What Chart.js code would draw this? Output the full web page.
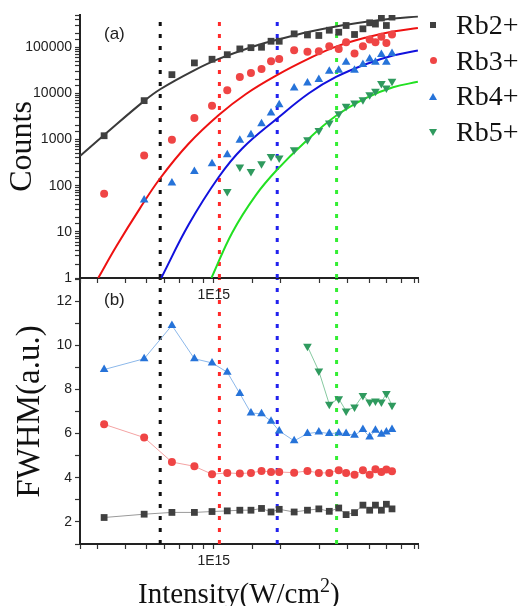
<!DOCTYPE html>
<html>
<head>
<meta charset="utf-8">
<script src="https://cdn.jsdelivr.net/npm/chart.js@4.4.1/dist/chart.umd.min.js"></script>
<style>
html, body { margin: 0; padding: 0; background: #fff; }
#wrap { position: relative; width: 521px; height: 606px; overflow: hidden; }
#wrap canvas { position: absolute; left: 0; top: 0; }
.panel { position: absolute; font-family: "Liberation Sans", Arial, sans-serif; font-size: 17px; color: #222; }
.leg { position: absolute; left: 456px; font-family: "Liberation Serif", serif; font-size: 28px; line-height: 36px; color: #111; white-space: nowrap; }
.mk { position: absolute; }
#xtitle { position: absolute; left: 138px; top: 579px; font-family: "Liberation Serif", serif; font-size: 29px; line-height: 29px; color: #111; white-space: nowrap; }
#xtitle span { font-size: 20px; position: relative; top: -11px; }
</style>
</head>
<body>
<div id="wrap">
  <canvas id="fwhm" width="521" height="606"></canvas>
  <canvas id="counts" width="521" height="606"></canvas>
  <div class="panel" style="left:104px;top:24px;">(a)</div>
  <div class="panel" style="left:104px;top:290px;">(b)</div>
  <div id="xtitle">Intensity(W/cm<span>2</span>)</div>
  <div id="legend"></div>
</div>
<script>
// ion species
const seriesNames = ['Rb2+', 'Rb3+', 'Rb4+', 'Rb5+'];

// laser intensity of each measurement (W/cm2)
const intensity = [3.21e14, 4.86e14, 6.48e14, 8.18e14, 9.82e14, 1.15e15, 1.31e15, 1.47e15,
    1.64e15, 1.81e15, 1.97e15, 2.30e15, 2.64e15, 2.97e15, 3.31e15, 3.65e15,
    3.94e15, 4.30e15, 4.69e15, 5.03e15, 5.34e15, 5.68e15, 5.98e15, 6.34e15];

// (a) ion counts
const counts2 = [1210, 6970, 25500, 45800, 55000, 69000, 92000, 98000, 100000, 135000, 135000, 195000,
    185000, 180000, 234000, 212000, 296000, 189000, 251000, 339000, 318000, 430000, 296000, 450000];
const counts3 = [67, 452, 991, 2930, 5420, 11700, 22800, 27800, 34000, 49700, 56000, 86000,
    80000, 82000, 105000, 92000, 128000, 73000, 105000, 147000, 128000, 168000, 124000, 189000];
const counts4 = [null, 49, 114, 203, 299, 468, 970, 1270, 2205, 3770, 5700, 13100,
    16900, 19900, 30100, 31700, 47300, 31700, 42100, 56000, 47300, 69400, 47300, 73000];
const counts5 = [null, null, null, null, null, 75, 253, 203, 299, 430, 397, 601,
    991, 1580, 2285, 3640, 5240, 6210, 7310, 9400, 11100, 16300, 13100, 18300];

// (a) fitted curves
const fitX2 = [2.5e14, 3.24e14, 4.82e14, 5.74e14, 8.12e14, 1.053e15, 1.544e15, 1.934e15, 2.69e15, 3.55e15, 4.86e15, 6.41e15, 8.29e15];
const fitY2 = [440, 1306, 6640, 12300, 31200, 55900, 108000, 146000, 217000, 283000, 356000, 418000, 461000];
const fitX3 = [3.02e14, 3.65e14, 4.66e14, 5.74e14, 7.70e14, 1.053e15, 1.391e15, 1.934e15, 2.69e15, 3.55e15, 4.86e15, 6.41e15, 8.29e15];
const fitY3 = [1, 4.94, 32.7, 145, 809, 3400, 9610, 25200, 57300, 103000, 163000, 219000, 261000];
const fitX4 = [5.80e14, 7.70e14, 1.053e15, 1.343e15, 1.934e15, 2.69e15, 3.55e15, 4.86e15, 6.41e15, 8.29e15];
const fitY4 = [1, 14.2, 154, 640, 2890, 10200, 22700, 43400, 66300, 85100];
const fitX5 = [9.76e14, 1.21e15, 1.544e15, 1.934e15, 2.555e15, 3.55e15, 4.86e15, 6.41e15, 8.29e15];
const fitY5 = [1, 9.6, 61.9, 226, 855, 3270, 8030, 13600, 17800];

// (b) peak widths
const fwhm2 = [2.20, 2.35, 2.43, 2.43, 2.47, 2.50, 2.53, 2.53, 2.61, 2.45, 2.57, 2.45,
    2.53, 2.59, 2.48, 2.63, 2.33, 2.42, 2.76, 2.53, 2.76, 2.53, 2.80, 2.59];
const fwhm3 = [6.42, 5.82, 4.71, 4.52, 4.16, 4.22, 4.19, 4.22, 4.31, 4.26, 4.26, 4.23,
    4.31, 4.22, 4.22, 4.34, 4.22, 4.14, 4.34, 4.14, 4.38, 4.26, 4.37, 4.29];
const fwhm4 = [8.90, 9.39, 10.90, 9.39, 9.20, 8.78, 7.81, 6.93, 6.90, 6.56, 6.12, 5.67,
    6.00, 6.07, 6.00, 6.03, 6.00, 5.92, 6.18, 5.85, 6.15, 5.97, 6.07, 6.18];
const fwhm5 = [null, null, null, null, null, null, null, null, null, null, null, null,
    9.95, 8.83, 7.33, 7.58, 7.02, 7.20, 7.73, 7.43, 7.47, 7.43, 7.81, 7.28];

// threshold intensities (dotted lines), one per species
const thresholds = [5.74e14, 1.06e15, 1.93e15, 3.57e15];

// axis ranges and labelled ticks
const xMin = 2.5e14, xMax = 8.3e15;
const countMin = 1, countMax = 5e5;
const fwhmMin = 1, fwhmMax = 13;
const xLabelValues = [1e15];
const countLabelValues = [1, 10, 100, 1000, 10000, 100000];
const fwhmLabelValues = [2, 4, 6, 8, 10, 12];

const markerColors = ['#404040', '#ef4545', '#2673d9', '#2f9a5e'];
const fitColors = ['#3a3a3a', '#ee1111', '#1111dd', '#22e022'];
const guideColors = ['#111111', '#ff2a2a', '#2222ee', '#33ee33'];
const thinColors = ['#9a9a9a', '#f4a3a3', '#8cb8ea', '#86c9a0'];
const pointStyles = ['rect', 'circle', 'triangle', 'triangle'];
const pointRot = [0, 0, 0, 180];
const pointRad = [4.8, 4, 5, 5];

const countsData = [counts2, counts3, counts4, counts5];
const fwhmData = [fwhm2, fwhm3, fwhm4, fwhm5];
const fitXs = [fitX2, fitX3, fitX4, fitX5];
const fitYs = [fitY2, fitY3, fitY4, fitY5];

const tickFont = { family: 'Liberation Sans', size: 14 };
const near = (v, list) => list.some(t => Math.abs(v - t) <= t * 1e-6);
const pairs = (xs, ys) => xs.map((x, i) => ({ x: x, y: ys[i] }));

function xScale(h) {
    return {
        type: 'logarithmic', min: xMin, max: xMax,
        grid: { drawOnChartArea: false, drawTicks: true, tickLength: 5, tickColor: '#333', tickWidth: 1.2 },
        border: { color: '#222', width: 2 },
        ticks: {
            autoSkip: false, maxRotation: 0, padding: 4, color: '#222', font: tickFont,
            callback: v => near(v, xLabelValues) ? '1E' + Math.round(Math.log10(v)) : ''
        },
        afterFit: s => { s.height = h; }
    };
}

function guides(lo, hi) {
    return thresholds.map((t, i) => ({
        type: 'line', data: [{ x: t, y: lo }, { x: t, y: hi }],
        borderColor: guideColors[i], borderWidth: 3, borderDash: [4, 8],
        pointRadius: 0, order: 3
    }));
}

function markers(values, withLine) {
    return values.map((ys, i) => ({
        type: 'line', label: seriesNames[i], data: pairs(intensity, ys),
        showLine: withLine, borderColor: thinColors[i], borderWidth: 1, spanGaps: false,
        pointStyle: pointStyles[i], rotation: pointRot[i], pointRadius: pointRad[i],
        pointBackgroundColor: markerColors[i], pointBorderWidth: 0, order: 1
    }));
}

const common = {
    responsive: false, animation: false, events: [],
    plugins: { legend: { display: false }, tooltip: { enabled: false } }
};

// (a) counts vs intensity
new Chart(document.getElementById('counts'), {
    type: 'line',
    data: {
        datasets: [
            ...markers(countsData, false),
            ...fitXs.map((xs, i) => ({
                type: 'line', data: pairs(xs, fitYs[i]), borderColor: fitColors[i], borderWidth: 2,
                pointRadius: 0, tension: 0.4, order: 2
            })),
            ...guides(countMin, countMax)
        ]
    },
    options: Object.assign({}, common, {
        layout: { padding: { top: 15, right: 103, left: 0, bottom: 0 } },
        scales: {
            x: xScale(606 - 278),
            y: {
                type: 'logarithmic', min: countMin, max: countMax,
                grid: { drawOnChartArea: false, drawTicks: true, tickLength: 5, tickColor: '#333', tickWidth: 1.2 },
                border: { color: '#222', width: 2 },
                ticks: {
                    autoSkip: false, padding: 3, color: '#222', font: tickFont,
                    callback: v => near(v, countLabelValues) ? String(v) : ''
                },
                title: { display: true, text: 'Counts', color: '#111', font: { family: 'Liberation Serif', size: 32 }, padding: { top: 3, bottom: 0 } },
                afterFit: s => { s.width = 80; }
            }
        }
    })
});

// (b) FWHM vs intensity
new Chart(document.getElementById('fwhm'), {
    type: 'line',
    data: { datasets: [...markers(fwhmData, true), ...guides(fwhmMin, fwhmMax)] },
    options: Object.assign({}, common, {
        layout: { padding: { top: 279, right: 103, left: 0, bottom: 0 } },
        scales: {
            x: xScale(606 - 544),
            y: {
                type: 'linear', min: fwhmMin, max: fwhmMax,
                grid: { drawOnChartArea: false, drawTicks: true, tickLength: 5, tickColor: '#333', tickWidth: 1.2 },
                border: { color: '#222', width: 2 },
                ticks: {
                    stepSize: 1, autoSkip: false, padding: 3, color: '#222', font: tickFont,
                    callback: v => fwhmLabelValues.includes(v) ? String(v) : ''
                },
                title: { display: true, text: 'FWHM(a.u.)', color: '#111', font: { family: 'Liberation Serif', size: 33 }, padding: { top: 11, bottom: 0 } },
                afterFit: s => { s.width = 80; }
            }
        }
    })
});

// legend at the right of panel (a)
const legend = document.getElementById('legend');
seriesNames.forEach((name, i) => {
    const top = 7 + i * 35.7;
    const row = document.createElement('div');
    row.className = 'leg';
    row.style.top = top + 'px';
    row.textContent = name;
    legend.appendChild(row);
    const mk = document.createElement('div');
    mk.className = 'mk';
    const cy = top + 18;
    if (pointStyles[i] === 'rect') {
        Object.assign(mk.style, { left: '430px', top: (cy - 3) + 'px', width: '6px', height: '6px', background: markerColors[i] });
    } else if (pointStyles[i] === 'circle') {
        Object.assign(mk.style, { left: '430px', top: (cy - 3.5) + 'px', width: '7px', height: '7px', borderRadius: '50%', background: markerColors[i] });
    } else {
        const up = pointRot[i] === 0;
        Object.assign(mk.style, {
            left: '429px', top: (cy - 3.5) + 'px', width: 0, height: 0,
            borderLeft: '4px solid transparent', borderRight: '4px solid transparent'
        });
        if (up) mk.style.borderBottom = '7px solid ' + markerColors[i];
        else mk.style.borderTop = '7px solid ' + markerColors[i];
    }
    legend.appendChild(mk);
});
</script>
</body>
</html>
